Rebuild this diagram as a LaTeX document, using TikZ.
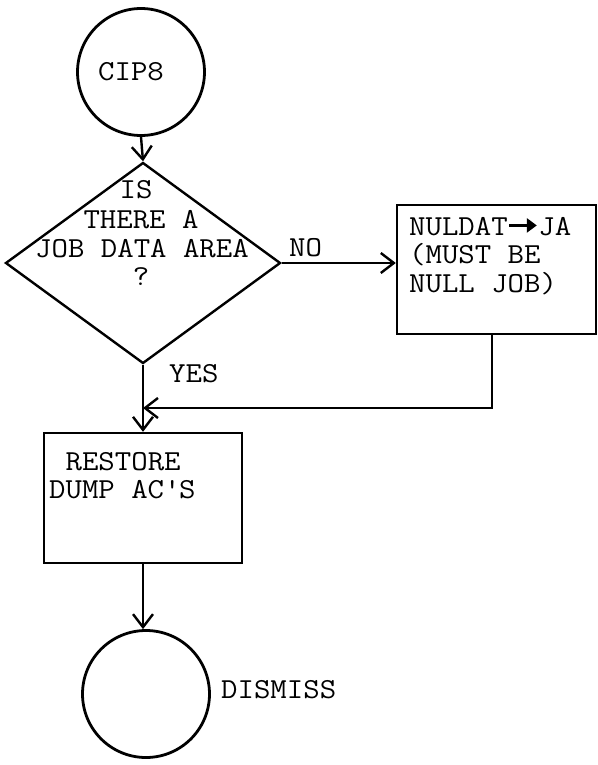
\documentclass[tikz,border=0pt]{standalone}
\usepackage{fontspec}
\setmainfont[FakeStretch=1.1]{Latin Modern Mono}
\usetikzlibrary{arrows.meta,shapes.geometric}
\tikzset{
  flow/.style={line width=2.4pt},
  arr/.style={flow,-{Straight Barb[length=13pt,width=20pt,line width=2.4pt]}},
  term/.style={circle,draw,line width=2.8pt,minimum size=127pt,inner sep=0pt},
  procbox/.style={draw,line width=2.4pt,inner sep=0pt},
  txt/.style={font=\fontsize{29}{29}\selectfont,inner sep=0pt},
}
\newcommand{\heavyarrow}{\tikz[baseline=0pt]{\draw[line width=3pt,-{Triangle[length=10pt,width=14pt]}] (0.2em,0.33em) -- (1.15em,0.33em);}}
\begin{document}
\begin{tikzpicture}[x=1pt,y=-1pt]
\useasboundingbox (0,0) rectangle (597,765);
% nodes
\node[term] (start) at (141,72) {};
\node[txt,anchor=base west] (starttxt) at (98,81) {CIP8};
\node[diamond,draw,line width=2.4pt,minimum width=275pt,minimum height=201pt,inner sep=0pt] (dec) at (143,263) {};
\node[txt,anchor=base] (d1) at (136,198) {IS};
\node[txt,anchor=base] (d2) at (141,228) {THERE A};
\node[txt,anchor=base] (d3) at (142,257) {JOB DATA AREA};
\node[txt,anchor=base] (d4) at (141,285) {?};
\node[procbox,minimum width=199pt,minimum height=129pt] (nul) at (496.5,269.5) {};
\node[txt,anchor=base west] (n1) at (409,235) {NULDAT\heavyarrow JA};
\node[txt,anchor=base west] (n2) at (409,263) {(MUST BE};
\node[txt,anchor=base west] (n3) at (409,292) {NULL JOB)};
\node[procbox,minimum width=198pt,minimum height=130pt] (rest) at (143,498) {};
\node[txt,anchor=base west] (r1) at (49,470) {\ RESTORE};
\node[txt,anchor=base west] (r2) at (49,498) {DUMP AC\textquotesingle S};
\node[term] (stop) at (146,694) {};
\node[txt,anchor=base west] (stoptxt) at (221,698) {DISMISS};
\node[txt,anchor=base west] (no) at (289,256) {NO};
\node[txt,anchor=base west] (yes) at (169,382) {YES};
\coordinate (merge) at (143,408);
% connectors
\draw[arr] (start.south) -- (dec.north);
\draw[arr] (dec.east) -- (dec.east -| nul.west);
\draw[arr] (nul.south -| 492,0) |- (merge);
\draw[arr] (dec.south) -- (rest.north);
\draw[arr] (rest.south) -- (rest.south |- stop.north);
\end{tikzpicture}
\end{document}
